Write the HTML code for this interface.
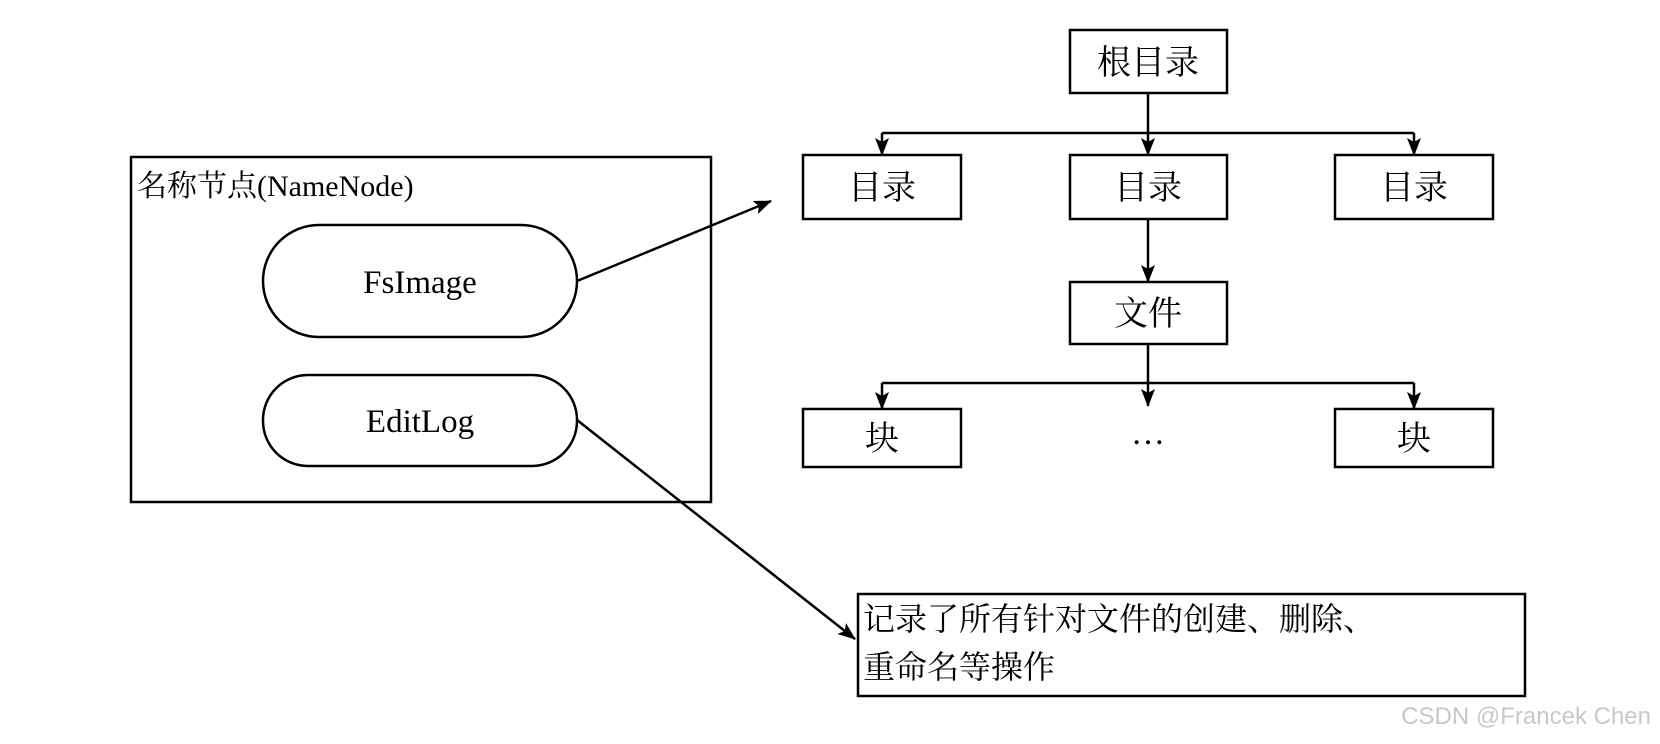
<!DOCTYPE html>
<html><head><meta charset="utf-8"><style>
html,body{margin:0;padding:0;background:#fff;}
svg{display:block;}
.t{font-family:"Liberation Serif","Noto Serif CJK SC",serif;fill:#000;}
</style></head><body>
<svg width="1660" height="744" viewBox="0 0 1660 744" xmlns="http://www.w3.org/2000/svg">
<defs>
<marker id="a" markerWidth="10" markerHeight="10" refX="9" refY="5" orient="auto" markerUnits="userSpaceOnUse" viewBox="0 0 10 10">
<path d="M0,0 L10,5 L0,10 L3,5 Z" fill="#000"/>
</marker>
<marker id="b" markerWidth="18" markerHeight="18" refX="17" refY="9" orient="auto" markerUnits="userSpaceOnUse" viewBox="0 0 18 18">
<path d="M0,2 L18,9 L0,16 L4,9 Z" fill="#000"/>
</marker>
</defs>
<g stroke="#000" stroke-width="2.5" fill="none">
<rect x="131" y="157" width="580" height="345"/>
<rect x="263" y="225" width="314" height="112" rx="56" ry="56"/>
<rect x="263" y="375" width="314" height="91" rx="45" ry="45"/>
<line x1="577" y1="281" x2="771" y2="201" marker-end="url(#b)"/>
<line x1="577" y1="420" x2="855" y2="639" marker-end="url(#b)"/>
<rect x="858" y="594" width="667" height="102"/>
<rect x="1070" y="30" width="157" height="63"/>
<rect x="803" y="155" width="158" height="64"/>
<rect x="1070" y="155" width="157" height="64"/>
<rect x="1335" y="155" width="158" height="64"/>
<rect x="1070" y="282" width="157" height="62"/>
<rect x="803" y="409" width="158" height="58"/>
<rect x="1335" y="409" width="158" height="58"/>
<line x1="1148" y1="93" x2="1148" y2="133"/>
<line x1="882" y1="133" x2="1414" y2="133"/>
<line x1="882" y1="133" x2="882" y2="155" marker-end="url(#b)"/>
<line x1="1148" y1="133" x2="1148" y2="155" marker-end="url(#b)"/>
<line x1="1414" y1="133" x2="1414" y2="155" marker-end="url(#b)"/>
<line x1="1148" y1="219" x2="1148" y2="282" marker-end="url(#b)"/>
<line x1="1148" y1="344" x2="1148" y2="383"/>
<line x1="882" y1="383" x2="1414" y2="383"/>
<line x1="882" y1="383" x2="882" y2="409" marker-end="url(#b)"/>
<line x1="1148" y1="383" x2="1148" y2="406" marker-end="url(#b)"/>
<line x1="1414" y1="383" x2="1414" y2="409" marker-end="url(#b)"/>
</g>
<text class="t" x="137" y="196" font-size="30">名称节点(NameNode)</text>
<text class="t" x="420" y="293" font-size="33" text-anchor="middle">FsImage</text>
<text class="t" x="420" y="432" font-size="33" text-anchor="middle">EditLog</text>
<text class="t" x="1148" y="74" font-size="34" text-anchor="middle">根目录</text>
<text class="t" x="882" y="199" font-size="34" text-anchor="middle">目录</text>
<text class="t" x="1148" y="199" font-size="34" text-anchor="middle">目录</text>
<text class="t" x="1414" y="199" font-size="34" text-anchor="middle">目录</text>
<text class="t" x="1148" y="325" font-size="34" text-anchor="middle">文件</text>
<text class="t" x="882" y="450" font-size="34" text-anchor="middle">块</text>
<text class="t" x="1414" y="450" font-size="34" text-anchor="middle">块</text>
<text class="t" x="1148" y="444" font-size="34" text-anchor="middle">…</text>
<text class="t" x="863" y="630" font-size="32">记录了所有针对文件的创建、删除、</text>
<text class="t" x="863" y="678" font-size="32">重命名等操作</text>
<text x="1651" y="724" font-size="24" text-anchor="end" fill="#c8c8c8" font-family="Liberation Sans, sans-serif">CSDN @Francek Chen</text>
</svg>
</body></html>
